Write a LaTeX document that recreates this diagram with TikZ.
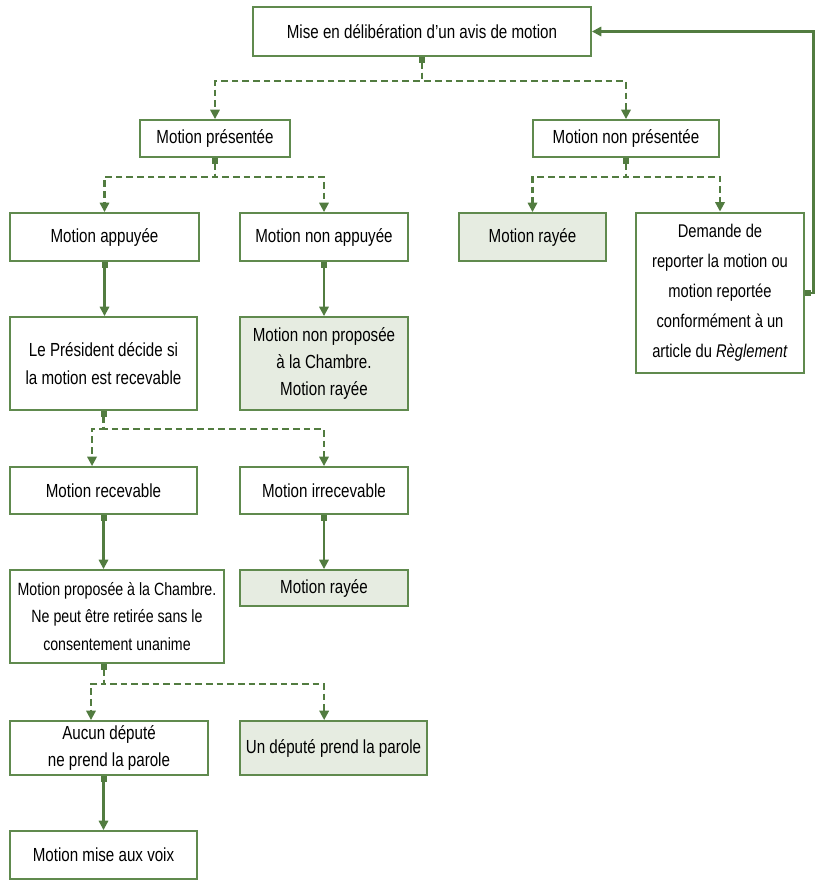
\documentclass[tikz,border=0pt]{standalone}
\usepackage{fontspec}
\setmainfont{Liberation Sans}[FakeStretch=0.8]
\usetikzlibrary{arrows.meta, calc}
\definecolor{boxGreen}{RGB}{96, 138, 78}
\definecolor{lineGreen}{RGB}{82, 124, 64}
\definecolor{fillGreen}{RGB}{230, 236, 225}

\begin{document}
\begin{tikzpicture}[
        x=0.75pt, y=-0.75pt,
        font=\fontsize{14.2}{20.5}\selectfont,
        box/.style={rectangle, draw=boxGreen, line width=1.4pt, align=center, inner sep=0pt, fill=white},
        grey/.style={box, fill=fillGreen},
        sline/.style={{Square[length=4.5pt,width=4.5pt]}-{Triangle[length=7pt,width=7pt]}, line width=1.6pt, lineGreen},
        dline/.style={sline, dash pattern=on 5pt off 3pt}
    ]
    \useasboundingbox (0,0) rectangle (819,892);

    \node[box, minimum width=253.5pt, minimum height=36.75pt] (deliber) at (422,31.5) {Mise en délibération d’un avis de motion};
    \node[box, minimum width=112.5pt, minimum height=27.75pt] (pres) at (215,138.5) {Motion présentée};
    \node[box, minimum width=139.5pt, minimum height=27.75pt] (nonpres) at (626,138.5) {Motion non présentée};
    \node[box, minimum width=141.75pt, minimum height=36pt] (appuy) at (104.5,237) {Motion appuyée};
    \node[box, minimum width=126pt, minimum height=36pt] (nonappuy) at (324,237) {Motion non appuyée};
    \node[grey, minimum width=110.25pt, minimum height=36pt] (raye1) at (532.5,237) {Motion rayée};
    \node[box, line width=2.2pt, minimum width=126pt, minimum height=120pt,
        font=\fontsize{13.8}{22.5}\selectfont] (report) at (720,293)
        {Demande de\\reporter la motion ou\\motion reportée\\conformément à un\\article du \textit{Règlement}};
    \node[box, minimum width=140.25pt, minimum height=69.75pt] (chair) at (103.5,363.5) {Le Président décide si\\la motion est recevable};
    \node[grey, minimum width=126pt, minimum height=69.75pt] (nonprop) at (324,363.5) {Motion non proposée\\à la Chambre.\\Motion rayée};
    \node[box, minimum width=140.25pt, minimum height=35.25pt] (recv) at (103.5,490.5) {Motion recevable};
    \node[box, minimum width=126pt, minimum height=35.25pt] (irrecv) at (324,490.5) {Motion irrecevable};
    \node[box, minimum width=160.5pt, minimum height=69.75pt,
        font=\fontsize{13.3}{20.5}\selectfont] (prop) at (117,616.5) {Motion proposée à la Chambre.\\Ne peut être retirée sans le\\consentement unanime};
    \node[grey, minimum width=126pt, minimum height=27pt] (raye2) at (324,588) {Motion rayée};
    \node[box, minimum width=148.5pt, minimum height=40.5pt] (aucun) at (109,748) {Aucun député\\ne prend la parole};
    \node[grey, minimum width=140.25pt, minimum height=40.5pt] (undep) at (333.5,748) {Un député prend la parole};
    \node[box, minimum width=140.25pt, minimum height=36pt] (voix) at (103.5,855) {Motion mise aux voix};

    % dashed branches
    \draw[dline] (deliber.south) -- ++(0,24) -| (pres.north);
    \draw[dline] (deliber.south) -- ++(0,24) -| (nonpres.north);
    \draw[dline] (pres.south) -- ++(0,19) -| (appuy.north);
    \draw[dline] (pres.south) -- ++(0,19) -| (nonappuy.north);
    \draw[dline] (nonpres.south) -- ++(0,19) -| (raye1.north);
    \draw[dline] (nonpres.south) -- ++(0,19) -| (report.north);
    \draw[dline] (chair.south) -- ++(0,18) -| ([xshift=-8.6pt]recv.north);
    \draw[dline] (chair.south) -- ++(0,18) -| (irrecv.north);
    \draw[dline] ([xshift=-10pt]prop.south) -- ++(0,20) -| ([xshift=-13.5pt]aucun.north);
    \draw[dline] ([xshift=-10pt]prop.south) -- ++(0,20) -| ([xshift=-7pt]undep.north);

    % solid links
    \draw[sline] (appuy.south) -- (appuy.south |- chair.north);
    \draw[sline] (nonappuy.south) -- (nonprop.north);
    \draw[sline] (recv.south) -- (recv.south |- prop.north);
    \draw[sline] (irrecv.south) -- (raye2.north);
    \draw[sline] (voix.north |- aucun.south) -- (voix.north);

    % back to the top
    \draw[sline] (report.east) -- ++(8,0) |- (deliber.east);
\end{tikzpicture}
\end{document}
